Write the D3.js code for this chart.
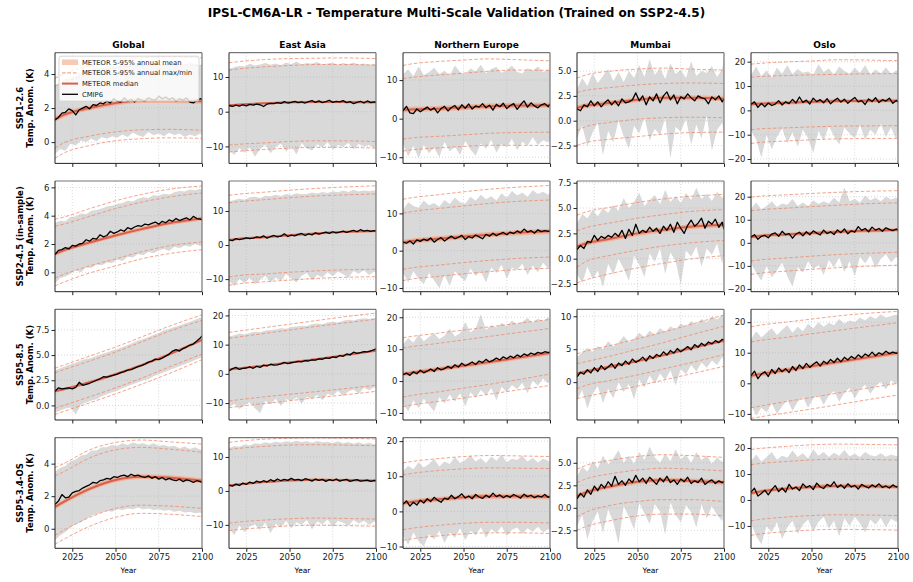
<!DOCTYPE html>
<html>
<head>
<meta charset="utf-8">
<script src="https://cdn.jsdelivr.net/npm/d3@7"></script>
<style>
  body { margin: 0; background: #fff; }
  svg { font-family: "DejaVu Sans", sans-serif; }
</style>
</head>
<body>
<div id="chart"></div>
<script>
var scenarios = ["SSP1-2.6", "SSP2-4.5 (in-sample)", "SSP5-8.5", "SSP5-3.4-OS"];
var regions = ["Global", "East Asia", "Northern Europe", "Mumbai", "Oslo"];
var xTickYears = [2025, 2050, 2075, 2100];

// METEOR curves are read at these years, CMIP6 series every 2 / 3 years
var knotYears = [2015, 2020, 2035, 2050, 2065, 2080, 2100];
var cmipYears = d3.range(2015, 2100, 2).concat([2100]);
var rangeYears = d3.range(2015, 2100, 3).concat([2100]);

// panel order: row by row (scenario), then region
var meteorMedian = [
  [1.35, 1.6, 2.0, 2.3, 2.45, 2.45, 2.4],
  [1.8, 2.0, 2.4, 2.7, 2.8, 2.8, 2.7],
  [2.3, 2.4, 2.6, 2.9, 3.2, 3.4, 3.5],
  [1.3, 1.5, 1.8, 2.1, 2.3, 2.3, 2.2],
  [2.5, 2.7, 3.1, 3.5, 3.8, 3.9, 4.0],
  [1.3, 1.55, 2.1, 2.6, 3.05, 3.45, 3.8],
  [1.5, 1.8, 2.3, 2.9, 3.4, 3.8, 4.1],
  [2.2, 2.6, 3.2, 3.8, 4.3, 4.8, 5.2],
  [1.2, 1.5, 2.0, 2.5, 2.85, 3.15, 3.35],
  [2.5, 3.0, 3.6, 4.2, 4.7, 5.2, 5.6],
  [1.4, 1.6, 2.3, 3.1, 4.0, 5.0, 6.5],
  [1.5, 1.8, 2.8, 3.9, 5.0, 6.2, 7.9],
  [2.2, 2.6, 3.7, 4.8, 6.0, 7.2, 8.8],
  [1.3, 1.6, 2.4, 3.2, 4.1, 5.1, 6.3],
  [2.5, 3.0, 4.3, 5.6, 7.0, 8.3, 10.0],
  [1.35, 1.65, 2.45, 3.0, 3.2, 3.15, 2.95],
  [1.6, 1.9, 2.6, 3.1, 3.3, 3.2, 3.0],
  [2.3, 2.7, 3.4, 4.0, 4.3, 4.3, 4.1],
  [1.3, 1.7, 2.4, 2.9, 3.1, 3.0, 2.8],
  [2.6, 3.2, 4.3, 5.0, 5.4, 5.3, 5.0]
];
// half width of the 5-95% annual mean band
var meteorSpread = [0.15, 0.35, 0.7, 0.25, 0.8, 0.15, 0.35, 0.7, 0.25, 0.8,
                    0.15, 0.35, 0.7, 0.25, 0.8, 0.15, 0.35, 0.7, 0.25, 0.8];
var meteorMaxHigh = [
  [3.75, 4.0, 4.5, 4.85, 4.95, 5.0, 4.95],
  [14.1, 14.4, 15.0, 15.3, 15.4, 15.5, 15.3],
  [13.8, 14.2, 14.8, 15.2, 15.5, 15.3, 15.0],
  [4.3, 4.6, 5.0, 5.2, 5.3, 5.2, 5.1],
  [19.0, 19.3, 19.9, 20.3, 20.8, 20.7, 20.4],
  [3.75, 3.9, 4.5, 5.05, 5.5, 5.85, 6.1],
  [14.6, 14.9, 15.5, 16.1, 16.6, 17.0, 17.4],
  [13.8, 14.2, 15.0, 15.8, 16.5, 17.0, 17.5],
  [4.3, 4.6, 5.1, 5.55, 5.9, 6.15, 6.35],
  [19.8, 20.2, 20.8, 21.4, 21.9, 22.3, 22.6],
  [3.7, 4.0, 4.9, 5.8, 6.8, 7.8, 9.0],
  [14.2, 14.6, 15.8, 17.0, 18.2, 19.4, 20.8],
  [13.6, 14.0, 15.0, 16.0, 17.0, 18.0, 19.3],
  [4.3, 4.7, 5.6, 6.6, 7.6, 8.7, 10.2],
  [18.5, 19.0, 20.0, 21.0, 22.0, 22.8, 23.5],
  [3.75, 4.0, 4.85, 5.3, 5.45, 5.35, 5.2],
  [14.3, 14.6, 15.2, 15.5, 15.6, 15.5, 15.3],
  [13.8, 14.2, 15.0, 15.6, 15.9, 15.8, 15.6],
  [4.3, 4.7, 5.3, 5.7, 5.9, 5.8, 5.6],
  [19.4, 19.8, 20.6, 21.2, 21.5, 21.4, 21.2]
];
var meteorMaxLow = [
  [3.3, 3.5, 4.0, 4.35, 4.5, 4.55, 4.5],
  [12.0, 12.3, 12.9, 13.3, 13.6, 13.6, 13.4],
  [10.4, 10.7, 11.3, 11.8, 12.3, 12.6, 12.5],
  [2.85, 3.05, 3.35, 3.6, 3.75, 3.8, 3.75],
  [13.6, 13.9, 14.3, 14.6, 14.8, 15.0, 15.1],
  [3.25, 3.4, 3.95, 4.5, 4.95, 5.3, 5.6],
  [12.4, 12.7, 13.3, 13.9, 14.4, 14.7, 15.0],
  [10.1, 10.5, 11.3, 12.0, 12.7, 13.2, 13.6],
  [2.75, 3.05, 3.55, 4.0, 4.35, 4.65, 4.85],
  [13.9, 14.3, 15.0, 15.7, 16.3, 16.9, 17.3],
  [3.25, 3.55, 4.4, 5.3, 6.3, 7.3, 8.45],
  [12.2, 12.6, 13.8, 15.0, 16.2, 17.3, 18.7],
  [10.4, 10.8, 11.8, 12.9, 14.0, 15.1, 16.5],
  [2.8, 3.1, 4.0, 5.0, 6.0, 7.1, 8.5],
  [13.5, 14.0, 15.0, 16.2, 17.3, 18.4, 19.8],
  [3.25, 3.5, 4.35, 4.85, 5.0, 4.9, 4.7],
  [12.2, 12.5, 13.1, 13.5, 13.6, 13.5, 13.3],
  [10.4, 10.8, 11.6, 12.1, 12.4, 12.3, 12.2],
  [2.8, 3.2, 3.8, 4.2, 4.4, 4.3, 4.1],
  [13.6, 14.0, 14.8, 15.4, 15.7, 15.6, 15.4]
];
var meteorMinHigh = [
  [-0.35, -0.05, 0.35, 0.6, 0.72, 0.75, 0.7],
  [-9.6, -9.4, -9.0, -8.6, -8.4, -8.4, -8.6],
  [-5.3, -5.0, -4.6, -4.2, -3.8, -3.6, -3.5],
  [-1.0, -0.6, -0.15, 0.15, 0.3, 0.35, 0.3],
  [-8.0, -7.6, -7.2, -6.8, -6.5, -6.4, -6.3],
  [-0.4, -0.15, 0.45, 0.95, 1.45, 1.85, 2.15],
  [-9.4, -9.0, -8.5, -8.0, -7.6, -7.3, -7.1],
  [-5.0, -4.6, -3.9, -3.2, -2.6, -2.1, -1.7],
  [-0.85, -0.3, 0.35, 0.85, 1.25, 1.55, 1.8],
  [-7.9, -7.4, -6.6, -5.8, -5.1, -4.6, -4.1],
  [-0.3, 0.0, 0.85, 1.75, 2.7, 3.75, 5.1],
  [-9.3, -8.9, -7.9, -7.0, -6.1, -5.2, -3.9],
  [-5.0, -4.5, -3.4, -2.2, -1.0, 0.3, 2.2],
  [-1.0, -0.5, 0.3, 1.1, 2.0, 2.9, 4.2],
  [-8.0, -7.5, -6.0, -4.6, -3.2, -1.8, 0.0],
  [-0.4, -0.1, 0.7, 1.25, 1.45, 1.4, 1.25],
  [-9.5, -9.2, -8.6, -8.2, -8.0, -8.1, -8.3],
  [-5.2, -4.8, -4.0, -3.4, -3.1, -3.1, -3.3],
  [-1.0, -0.5, 0.3, 0.7, 0.9, 0.9, 0.7],
  [-8.0, -7.5, -6.6, -6.0, -5.7, -5.8, -6.0]
];
var meteorMinLow = [
  [-0.95, -0.65, -0.2, 0.08, 0.2, 0.25, 0.22],
  [-11.6, -11.4, -10.9, -10.5, -10.3, -10.3, -10.5],
  [-8.4, -8.1, -7.6, -7.2, -6.9, -6.9, -7.0],
  [-2.5, -2.2, -1.85, -1.6, -1.35, -1.2, -1.15],
  [-13.6, -13.2, -12.6, -12.1, -11.7, -11.6, -11.5],
  [-0.95, -0.7, -0.05, 0.45, 0.95, 1.3, 1.6],
  [-11.8, -11.4, -10.8, -10.3, -9.8, -9.5, -9.3],
  [-8.0, -7.6, -6.9, -6.2, -5.6, -5.1, -4.7],
  [-2.4, -2.1, -1.45, -0.9, -0.45, -0.05, 0.3],
  [-13.7, -13.2, -12.3, -11.5, -10.8, -10.2, -9.7],
  [-0.9, -0.6, 0.25, 1.15, 2.1, 3.1, 4.55],
  [-11.6, -11.2, -10.2, -9.2, -8.2, -7.3, -6.0],
  [-8.0, -7.5, -6.4, -5.3, -4.1, -2.9, -1.4],
  [-2.5, -2.2, -1.4, -0.6, 0.3, 1.2, 2.4],
  [-11.5, -11.0, -9.7, -8.4, -7.0, -5.6, -3.8],
  [-0.95, -0.65, 0.15, 0.7, 0.95, 0.9, 0.75],
  [-11.7, -11.4, -10.8, -10.3, -10.1, -10.2, -10.4],
  [-8.2, -7.8, -7.0, -6.4, -6.1, -6.1, -6.3],
  [-2.5, -2.1, -1.4, -0.9, -0.7, -0.7, -0.9],
  [-13.6, -13.1, -12.2, -11.6, -11.3, -11.4, -11.6]
];

// CMIP6 annual mean (every 2 years + 2100)
var cmipMean = [
  [1.3,1.45,1.7,1.75,1.95,1.85,1.6,1.9,2.0,2.1,1.95,2.2,2.15,2.3,2.25,2.4,2.3,2.55,2.4,2.35,2.6,2.4,2.5,2.35,2.55,2.45,2.4,2.6,2.5,2.45,2.7,2.55,2.65,2.5,2.6,2.4,2.55,2.45,2.6,2.35,2.3,2.45,2.55,2.5],
  [1.8,1.5,1.9,1.6,2.0,1.7,2.1,1.9,2.2,2.0,1.5,2.2,2.4,2.3,2.6,2.4,2.9,2.5,2.7,3.0,2.6,2.8,2.5,2.9,3.2,2.7,3.1,2.6,2.9,3.3,2.7,3.0,2.8,3.2,2.6,2.9,2.3,2.7,3.0,2.5,3.1,2.6,2.8,2.7],
  [2.0,3.2,1.5,1.3,2.5,1.8,2.4,3.0,2.2,2.8,1.5,2.6,3.2,2.0,2.9,3.4,2.3,3.6,2.7,3.8,2.5,3.3,3.0,3.9,2.8,3.5,2.2,3.7,3.1,4.0,2.6,3.4,3.9,2.4,3.6,4.6,3.0,4.1,3.3,2.8,3.6,3.9,3.1,3.8],
  [1.2,1.0,1.6,1.4,2.0,1.5,1.9,1.4,1.8,2.1,1.6,2.0,1.5,2.2,1.8,1.9,2.1,2.8,2.0,2.5,1.6,2.4,2.0,2.7,1.8,2.5,2.9,2.1,2.6,1.7,2.4,2.2,2.7,2.3,2.0,2.5,2.3,2.2,1.7,2.4,2.1,2.5,1.9,2.2],
  [2.5,3.5,1.2,2.8,1.5,3.0,2.0,2.6,4.0,2.2,3.5,2.8,4.5,3.0,5.5,3.3,4.2,2.6,5.0,3.6,4.4,3.1,4.8,2.7,4.0,5.0,3.4,4.6,2.9,4.2,5.3,3.5,4.0,2.4,4.7,3.6,5.2,3.2,4.4,3.8,5.0,2.9,4.1,3.5],
  [1.25,1.55,1.6,1.75,1.65,1.9,1.85,2.0,2.05,2.3,2.2,2.4,2.35,2.65,2.5,2.6,2.9,2.75,2.85,3.0,2.9,3.15,3.05,3.2,3.3,3.25,3.4,3.35,3.45,3.55,3.4,3.6,3.5,3.7,3.6,3.8,3.65,3.75,3.85,3.7,3.95,3.8,3.75,3.7],
  [1.5,1.3,1.9,1.6,1.8,2.1,1.9,2.0,2.4,2.2,2.7,2.0,2.5,2.8,2.4,2.6,3.3,2.5,2.9,2.7,3.1,3.4,2.8,3.3,3.0,3.6,3.2,3.5,3.8,3.4,3.9,3.6,3.8,4.1,3.7,4.0,4.3,3.9,4.5,4.1,4.3,4.0,4.2,4.1],
  [2.3,2.0,2.6,1.8,2.9,2.5,3.1,2.7,3.4,2.3,3.0,3.5,2.6,3.3,3.9,3.2,3.6,4.1,3.0,3.8,3.4,4.2,3.7,3.2,4.4,3.9,4.7,4.0,4.5,4.9,4.3,5.0,4.6,5.3,4.8,5.8,5.0,5.4,4.7,5.6,5.1,5.4,5.2,5.3],
  [0.9,1.3,1.0,1.7,1.6,2.3,1.8,2.2,2.0,2.3,2.1,2.5,2.2,2.8,2.0,2.9,2.3,3.4,2.5,2.8,2.6,3.1,2.7,3.0,2.5,3.2,2.8,3.4,2.6,3.6,3.0,2.5,3.3,3.8,3.2,3.5,4.0,3.0,3.7,3.4,3.9,3.1,3.6,2.9],
  [2.5,3.5,1.5,2.8,3.2,2.2,3.8,4.3,2.8,5.0,3.5,4.0,2.0,3.8,4.6,3.0,4.8,3.5,5.2,4.2,3.4,5.5,4.0,4.8,3.6,5.6,4.4,6.0,3.9,5.2,4.6,7.0,5.4,6.2,4.8,6.8,5.5,6.2,5.0,6.5,5.8,5.3,6.0,5.5],
  [1.4,1.75,1.65,1.7,1.75,1.65,1.8,2.3,2.0,2.1,2.2,2.35,2.5,2.65,2.85,2.8,2.9,3.0,3.1,3.25,3.35,3.5,3.55,3.7,3.85,3.95,4.1,4.3,4.4,4.6,4.55,4.7,4.9,5.1,5.4,5.55,5.4,5.65,5.8,6.0,6.1,6.4,6.7,6.9],
  [1.0,1.8,2.2,1.5,1.9,2.0,2.4,1.9,2.6,2.2,3.0,2.7,3.3,3.0,3.1,3.4,3.9,3.5,3.8,4.0,4.3,4.1,4.5,4.4,4.8,4.7,5.1,5.0,5.5,5.3,5.8,5.6,6.3,6.0,6.8,6.5,7.4,7.0,7.3,7.6,7.5,7.9,8.3,8.6],
  [2.0,2.5,1.8,2.9,2.3,3.4,2.6,3.1,3.8,3.0,4.2,3.5,3.9,4.6,4.0,5.1,4.4,5.6,4.8,5.3,6.0,5.2,6.3,5.8,6.8,6.0,6.5,7.2,6.6,7.6,7.0,7.8,7.3,8.2,7.6,8.5,8.0,8.8,8.3,9.0,8.7,9.2,8.9,9.1],
  [0.8,1.5,1.2,1.9,1.4,2.2,1.6,2.5,1.9,2.3,2.8,2.1,2.9,2.5,3.2,2.7,3.5,3.0,3.3,3.8,3.2,4.0,3.6,4.2,3.9,4.6,4.1,4.8,4.4,5.1,4.6,5.0,5.4,4.9,5.7,5.3,5.9,5.5,6.1,5.8,6.3,6.0,6.5,6.4],
  [2.5,4.0,1.5,3.0,3.8,2.2,4.5,3.2,5.0,3.8,4.8,3.5,5.5,4.2,6.0,4.8,6.5,5.2,6.2,7.0,5.6,7.2,6.4,7.8,6.8,8.2,7.0,8.5,7.6,8.8,8.0,9.3,8.4,9.6,8.9,10.2,9.0,10.0,9.4,10.5,9.7,10.2,9.8,10.0],
  [1.5,1.7,2.1,1.9,1.95,2.2,2.3,2.35,2.5,2.6,2.7,2.85,2.8,2.95,3.0,3.1,3.05,3.2,3.15,3.25,3.3,3.2,3.35,3.25,3.3,3.2,3.15,3.25,3.1,3.2,3.05,3.15,3.0,3.1,3.0,2.95,3.05,2.9,3.0,2.95,2.85,2.95,2.9,2.85],
  [1.7,1.4,2.0,1.6,2.3,1.9,2.6,2.2,2.9,2.5,3.0,2.6,3.3,2.8,3.5,3.0,3.4,3.1,3.7,3.2,3.4,3.0,3.6,3.3,2.9,3.5,3.1,3.4,2.8,3.3,3.0,3.5,2.9,3.2,3.4,2.8,3.1,3.3,2.9,3.0,3.2,2.8,3.1,3.0],
  [2.0,3.0,1.5,2.6,1.8,3.2,2.4,3.6,2.8,4.0,3.2,2.6,3.8,3.4,4.6,3.6,4.2,5.0,3.8,4.4,3.6,4.8,4.1,3.7,4.6,4.0,5.2,4.2,4.7,3.9,4.5,4.0,4.8,4.3,3.8,4.9,4.2,4.6,3.9,4.4,4.1,4.8,4.0,4.3],
  [1.0,1.6,1.2,2.0,1.5,2.4,1.9,2.6,2.2,2.9,2.4,3.5,2.6,3.0,2.5,3.2,2.8,3.6,2.9,3.3,2.7,3.4,3.0,2.6,3.3,2.9,3.5,2.8,3.1,2.6,3.2,2.9,3.4,2.7,3.0,2.8,3.3,2.6,2.9,3.1,2.7,3.0,2.8,2.9],
  [3.0,4.5,1.5,2.5,3.8,2.0,4.0,5.5,3.2,4.6,3.0,6.0,4.2,5.0,3.6,6.2,4.8,5.5,4.0,6.5,5.0,4.4,6.0,5.2,7.0,4.8,5.8,4.5,6.2,5.0,5.6,4.2,6.0,5.2,4.6,5.8,5.0,6.2,4.8,5.4,4.6,5.8,5.0,5.2]
];
// CMIP6 annual max / min envelope (every 3 years + 2100)
var cmipMax = [
  [3.3,3.5,3.7,3.8,3.9,4.1,4.2,4.25,4.4,4.3,4.45,4.5,4.4,4.6,4.5,4.55,4.7,4.5,4.6,4.55,4.65,4.5,4.7,4.55,4.6,4.5,4.7,4.6,4.5,4.6],
  [12.3,12.8,13.2,13.0,13.8,13.3,13.6,14.0,13.5,13.9,13.4,14.2,13.7,14.5,13.6,14.0,13.8,14.3,13.6,13.9,14.1,13.5,14.0,13.7,14.2,13.6,13.9,13.5,13.8,13.4],
  [11.5,12.8,11.0,13.5,11.3,12.0,13.2,11.6,12.4,11.2,13.8,12.0,11.5,13.0,12.2,14.0,11.8,12.9,13.4,11.9,12.6,13.8,12.1,11.7,13.1,12.4,13.5,12.0,12.8,12.3],
  [3.2,4.3,3.5,4.8,3.8,4.5,5.2,4.0,4.9,3.9,5.0,4.3,5.6,4.4,6.2,4.6,5.3,4.2,5.8,4.7,5.1,4.3,6.0,4.5,5.0,4.8,5.5,4.4,5.2,6.3],
  [14.5,18.0,14.0,16.5,13.5,17.5,15.0,18.5,14.8,17.0,15.5,16.0,14.5,19.0,15.8,17.2,14.6,18.0,16.2,15.0,17.5,15.5,18.5,14.8,16.8,15.2,17.6,15.0,16.5,15.8],
  [3.5,3.65,3.6,3.9,3.95,4.15,4.1,4.35,4.4,4.5,4.65,4.7,4.85,4.9,5.05,5.0,5.2,5.3,5.25,5.45,5.4,5.55,5.5,5.65,5.75,5.7,5.85,5.8,5.9,5.85],
  [12.8,13.2,13.6,13.3,14.0,14.2,13.8,14.5,14.3,14.8,14.4,15.0,14.7,15.2,14.9,15.0,15.4,15.1,15.6,15.3,15.8,15.5,16.0,15.6,16.2,15.7,16.0,15.8,16.1,15.9],
  [11.0,13.0,12.0,11.5,13.5,12.2,12.8,11.8,13.6,12.5,14.2,13.0,12.6,14.5,13.4,15.0,13.8,14.6,13.5,15.4,14.2,16.0,14.8,15.6,14.5,16.2,15.2,15.8,15.0,15.5],
  [3.5,4.4,4.0,4.8,4.2,5.0,4.5,5.3,4.7,6.0,5.0,5.6,6.5,5.2,5.8,6.3,5.4,6.8,5.6,6.2,5.5,6.5,5.8,7.0,5.9,6.4,5.7,6.6,6.0,6.3],
  [15.0,17.5,14.5,16.0,18.0,15.5,17.0,16.5,19.0,16.0,17.5,15.8,18.5,16.8,18.0,17.0,19.5,17.5,24.0,18.0,19.0,17.5,20.5,18.5,19.5,18.0,20.0,18.8,19.5,19.0],
  [3.5,3.7,3.9,4.1,4.25,4.45,4.6,4.7,4.9,5.1,5.25,5.45,5.6,5.8,6.0,6.2,6.45,6.6,6.8,7.0,7.2,7.45,7.6,7.8,7.95,8.15,8.3,8.5,8.7,8.7],
  [12.8,13.2,13.8,13.5,14.0,14.4,14.2,14.8,15.0,15.2,15.6,15.4,16.0,16.2,16.5,16.4,17.0,17.2,17.0,17.6,17.8,17.6,18.2,18.5,18.3,18.8,19.0,18.8,19.2,19.0],
  [11.5,13.5,12.0,14.5,12.5,13.8,15.0,13.2,14.2,16.5,14.0,15.0,18.5,15.2,16.5,21.0,16.0,17.5,16.8,18.2,17.2,19.0,17.8,18.6,19.8,18.4,19.5,18.8,20.0,19.2],
  [3.8,4.5,5.2,4.6,5.5,5.0,6.2,5.4,6.0,7.0,6.1,6.6,7.5,6.8,7.8,7.2,8.2,7.6,8.5,8.0,8.9,8.4,9.3,8.8,9.6,9.1,10.0,9.5,10.2,9.8],
  [14.5,17.0,15.0,16.5,18.0,15.8,17.5,19.0,16.5,18.5,17.0,19.5,18.0,20.0,18.5,19.8,19.0,21.0,19.5,20.5,20.0,21.5,20.5,22.0,21.0,22.5,21.5,22.0,22.5,22.0],
  [3.5,3.75,3.85,4.15,4.25,4.5,4.55,4.8,4.8,5.0,5.0,5.15,5.1,5.25,5.15,5.3,5.2,5.25,5.15,5.25,5.1,5.15,5.05,5.1,4.95,5.05,4.9,5.0,4.85,4.9],
  [12.6,13.2,13.0,13.7,13.4,14.0,13.8,14.3,14.0,14.5,14.2,14.6,14.3,14.8,14.4,14.6,14.2,14.7,14.3,14.5,14.1,14.6,14.0,14.4,13.9,14.3,13.8,14.2,13.7,14.0],
  [11.5,13.0,12.0,14.0,12.5,13.5,15.0,12.8,14.2,13.5,15.5,13.8,14.6,16.0,14.2,15.2,13.8,15.6,14.4,16.2,14.0,15.0,14.6,15.8,14.2,15.2,13.9,15.0,14.4,14.0],
  [3.5,4.6,4.0,5.2,4.4,5.8,4.8,5.5,6.4,5.0,5.8,4.9,6.2,5.3,6.8,5.6,5.0,6.0,5.2,6.5,5.4,5.9,5.0,6.2,5.3,5.8,4.9,5.6,5.1,5.4],
  [15.0,17.5,14.8,16.5,18.5,15.5,17.0,16.2,19.0,16.5,18.0,16.0,19.5,17.0,18.5,16.5,18.2,17.0,19.2,16.8,17.8,16.5,18.5,17.2,16.8,18.0,16.6,17.5,16.8,17.2]
];
var cmipMin = [
  [-0.7,-0.4,-0.5,-0.1,-0.2,0.1,0.0,0.2,0.05,0.3,0.2,0.35,0.25,0.45,0.3,0.55,0.4,0.3,0.6,0.4,0.5,0.35,0.55,0.4,0.5,0.3,0.45,0.35,0.5,0.4],
  [-11.0,-12.5,-10.5,-11.8,-10.3,-13.0,-10.8,-9.5,-12.0,-10.2,-9.2,-11.5,-10.0,-12.3,-9.0,-10.6,-11.2,-9.4,-10.3,-8.8,-11.0,-9.6,-10.1,-9.0,-10.8,-9.3,-10.0,-9.6,-10.5,-9.8],
  [-6.5,-9.8,-7.0,-10.2,-6.8,-9.0,-7.5,-10.0,-6.0,-8.5,-7.2,-9.4,-5.8,-8.0,-9.6,-6.4,-7.8,-5.5,-8.8,-6.6,-7.4,-5.2,-8.2,-6.0,-7.0,-4.8,-6.8,-5.6,-6.2,-5.4],
  [-1.8,-0.5,-2.6,-1.2,-0.2,-3.5,-1.0,-2.2,0.0,-1.6,-2.8,-0.5,-1.3,0.4,-2.0,-0.8,-1.5,0.3,-3.8,-0.6,-1.1,0.2,-2.4,-0.4,-1.8,0.5,-3.0,-0.9,-0.2,-1.4],
  [-8.5,-12.0,-19.5,-10.0,-16.0,-11.0,-7.5,-13.5,-9.0,-15.0,-8.0,-11.5,-17.5,-8.5,-12.5,-6.5,-10.5,-14.0,-7.0,-9.5,-11.5,-6.0,-12.0,-8.0,-10.0,-5.5,-11.0,-7.0,-12.0,-8.0],
  [-0.8,-0.4,-0.3,-0.1,0.15,0.0,0.35,0.3,0.55,0.5,0.7,0.65,0.9,0.8,1.1,1.05,1.3,1.2,1.45,1.35,1.55,1.65,1.5,1.8,1.7,1.9,1.8,2.0,1.85,1.9],
  [-10.5,-12.0,-10.0,-11.2,-9.6,-11.5,-10.2,-9.0,-11.0,-9.5,-10.5,-8.5,-9.8,-11.0,-9.0,-8.2,-10.4,-8.8,-9.5,-8.0,-9.2,-7.8,-8.6,-9.6,-7.6,-8.4,-7.4,-8.8,-7.8,-8.2],
  [-6.0,-8.5,-5.5,-7.5,-9.0,-6.0,-8.0,-10.0,-6.5,-9.5,-5.5,-7.0,-8.2,-4.8,-6.8,-5.5,-8.5,-4.5,-6.0,-3.8,-7.5,-4.5,-5.2,-3.5,-6.5,-4.0,-5.8,-3.2,-4.8,-4.0],
  [-1.5,-2.4,-0.8,-2.0,-1.2,-2.8,-0.5,-1.6,0.0,-1.0,-2.2,0.3,-0.6,-1.8,0.5,-0.3,1.0,-1.5,0.6,-0.2,-2.6,0.8,0.2,1.2,-0.8,1.0,0.4,1.5,-0.5,0.7],
  [-9.0,-13.0,-16.5,-10.0,-15.0,-12.0,-8.5,-14.5,-19.0,-10.5,-13.0,-8.0,-11.5,-9.5,-14.0,-7.5,-10.5,-6.5,-12.5,-8.0,-14.5,-6.0,-9.0,-5.5,-11.0,-7.0,-5.0,-8.5,-6.0,-7.0],
  [-0.7,-0.5,-0.3,-0.2,-0.9,0.1,0.3,0.5,0.6,0.9,1.1,1.3,1.45,1.7,1.9,2.1,2.3,2.5,2.6,2.9,3.1,3.3,3.5,3.7,3.9,4.1,4.3,4.5,4.7,4.8],
  [-11.5,-10.2,-12.0,-10.8,-9.6,-11.8,-13.5,-9.2,-10.5,-8.5,-11.0,-8.6,-9.4,-8.0,-10.2,-7.8,-8.6,-7.2,-9.0,-6.8,-7.5,-5.8,-7.6,-6.0,-5.4,-6.8,-4.8,-5.6,-4.5,-5.0],
  [-7.0,-9.5,-6.0,-8.5,-5.5,-7.5,-9.5,-5.0,-7.0,-4.2,-6.5,-3.8,-8.0,-3.5,-5.2,-2.8,-4.5,-2.2,-6.0,-1.8,-3.5,-1.2,-2.6,-0.5,-3.8,0.2,-1.5,0.8,-0.8,0.5],
  [-2.8,-1.2,-4.0,-1.8,-0.6,-3.2,-1.0,-2.5,0.0,-1.5,-0.3,-2.6,0.4,-0.8,1.0,-0.2,1.3,0.3,1.8,-0.5,2.0,1.2,2.6,1.6,3.0,2.2,3.3,2.6,3.8,3.2],
  [-7.0,-10.5,-8.0,-9.5,-6.5,-10.0,-7.5,-5.5,-9.0,-6.0,-4.5,-8.0,-5.0,-3.8,-7.0,-4.0,-2.5,-6.0,-3.0,-1.5,-5.0,-2.0,-0.5,-3.5,-1.0,0.5,-2.0,1.0,-0.5,1.5],
  [-0.7,-0.4,-0.2,0.1,0.3,0.4,0.6,0.8,0.9,1.0,1.1,1.05,1.2,1.15,1.25,1.2,1.3,1.2,1.25,1.15,1.2,1.1,1.15,1.05,1.1,1.0,1.05,0.95,1.0,0.9],
  [-11.0,-13.0,-10.2,-12.2,-10.5,-9.8,-11.5,-9.2,-12.5,-9.6,-10.8,-8.8,-11.0,-9.2,-10.0,-8.6,-11.4,-9.0,-9.8,-8.4,-10.6,-8.8,-9.4,-10.2,-8.6,-9.6,-8.8,-10.0,-9.0,-9.4],
  [-7.0,-9.5,-6.0,-8.5,-10.0,-6.5,-8.0,-5.5,-9.0,-6.0,-7.5,-4.8,-8.2,-5.5,-6.8,-4.5,-7.6,-5.0,-6.2,-4.2,-7.0,-5.2,-4.6,-6.4,-4.8,-5.8,-4.4,-6.0,-5.0,-5.4],
  [-2.0,-0.8,-3.5,-1.5,-0.4,-2.8,-0.2,-1.6,-4.0,0.2,-1.0,-2.4,0.5,-0.6,-1.8,0.4,-0.4,-3.0,0.6,-0.8,-1.6,0.3,-0.5,-2.2,0.4,-1.2,0.2,-0.8,-1.5,-0.2],
  [-9.0,-14.0,-17.0,-10.0,-12.5,-8.5,-15.0,-10.5,-8.0,-13.0,-9.5,-7.5,-12.0,-8.5,-6.5,-11.0,-8.0,-14.0,-7.0,-10.0,-6.5,-9.0,-12.5,-7.5,-9.5,-6.8,-10.5,-7.2,-8.5,-7.8]
];

// axis limits and tick values per panel
var yLimits = [
  [-1.25, 5.25], [-14.9, 17], [-11.6, 17.1], [-4.3, 6.85], [-21.8, 23.7],
  [-1.37, 6.45], [-13.7, 18.8], [-11, 18.7], [-3.26, 7.67], [-21.2, 26.8],
  [-1.45, 9.55], [-15.8, 22.1], [-12.2, 22.5], [-5.75, 11.06], [-12, 24.2],
  [-1.2, 5.6], [-16.9, 15.7], [-10.5, 21], [-4.5, 7.8], [-18.6, 24]
];
var yTickValues = [
  [0, 2, 4], [-10, 0, 10], [-10, 0, 10], [-2.5, 0, 2.5, 5], [-20, -10, 0, 10, 20],
  [0, 2, 4, 6], [-10, 0, 10], [-10, 0, 10], [-2.5, 0, 2.5, 5, 7.5], [-20, -10, 0, 10, 20],
  [0, 2.5, 5, 7.5], [-10, 0, 10, 20], [-10, 0, 10, 20], [0, 5, 10], [-10, 0, 10, 20],
  [0, 2, 4], [-10, 0, 10], [-10, 0, 10, 20], [-2.5, 0, 2.5, 5], [-10, 0, 10, 20]
];

var width = 913, height = 582;
var colX = [55, 229, 403, 577, 751];
var rowY = [52.7, 181, 309.3, 437.6];
var panelW = 147, panelH = 110.7;

var colors = {
  range: "#d9d9d9",
  dashed: "#ee8866",
  band: "#f4a582",
  median: "#d6604d",
  cmip: "#000"
};

var svg = d3.select("#chart").append("svg")
  .attr("width", width)
  .attr("height", height);

svg.append("text")
  .attr("x", width / 2)
  .attr("y", 17)
  .attr("text-anchor", "middle")
  .style("font-size", "12px")
  .style("font-weight", "bold")
  .text("IPSL-CM6A-LR - Temperature Multi-Scale Validation (Trained on SSP2-4.5)");

for (var p = 0; p < 20; p++) drawPanel(p);

function drawPanel(p) {
  var r = Math.floor(p / 5), c = p % 5;
  var g = svg.append("g").attr("transform", "translate(" + colX[c] + "," + rowY[r] + ")");

  var x = d3.scaleLinear().domain([2015, 2100]).range([0, panelW]);
  var y = d3.scaleLinear().domain(yLimits[p]).range([panelH, 0]);

  g.append("clipPath").attr("id", "clip" + p)
    .append("rect").attr("width", panelW).attr("height", panelH);
  var plot = g.append("g").attr("clip-path", "url(#clip" + p + ")");

  // CMIP6 max/min envelope
  var rangeData = rangeYears.map(function (yr, i) {
    return { year: yr, hi: cmipMax[p][i], lo: cmipMin[p][i] };
  });
  plot.append("path")
    .datum(rangeData)
    .attr("fill", colors.range)
    .attr("d", d3.area().x(d => x(d.year)).y0(d => y(d.lo)).y1(d => y(d.hi)));

  // grid
  var grid = plot.append("g");
  grid.selectAll(".gx").data(xTickYears).enter().append("line")
    .attr("x1", d => x(d)).attr("x2", d => x(d))
    .attr("y1", 0).attr("y2", panelH);
  grid.selectAll(".gy").data(yTickValues[p]).enter().append("line")
    .attr("x1", 0).attr("x2", panelW)
    .attr("y1", d => y(d)).attr("y2", d => y(d));
  grid.selectAll("line")
    .attr("stroke", "#b0b0b0")
    .attr("stroke-width", 0.7)
    .attr("stroke-dasharray", "1,2")
    .attr("opacity", 0.7);

  var knots = function (arr) {
    return knotYears.map(function (yr, i) { return { year: yr, v: arr[i] }; });
  };
  var smooth = d3.line().x(d => x(d.year)).y(d => y(d.v)).curve(d3.curveMonotoneX);

  // METEOR max/min percentiles
  [meteorMaxHigh, meteorMaxLow, meteorMinHigh, meteorMinLow].forEach(function (series) {
    plot.append("path")
      .datum(knots(series[p]))
      .attr("fill", "none")
      .attr("stroke", colors.dashed)
      .attr("stroke-width", 0.9)
      .attr("stroke-dasharray", "3.5,2")
      .attr("opacity", 0.85)
      .attr("d", smooth);
  });

  // METEOR annual mean band + median
  var med = knots(meteorMedian[p]);
  var s = meteorSpread[p];
  plot.append("path")
    .datum(med)
    .attr("fill", colors.band)
    .attr("opacity", 0.75)
    .attr("d", d3.area().x(d => x(d.year)).y0(d => y(d.v - s)).y1(d => y(d.v + s)).curve(d3.curveMonotoneX));
  plot.append("path")
    .datum(med)
    .attr("fill", "none")
    .attr("stroke", colors.median)
    .attr("stroke-width", 2)
    .attr("d", smooth);

  // CMIP6 annual mean
  var meanData = cmipYears.map(function (yr, i) { return { year: yr, v: cmipMean[p][i] }; });
  plot.append("path")
    .datum(meanData)
    .attr("fill", "none")
    .attr("stroke", colors.cmip)
    .attr("stroke-width", 1.3)
    .attr("stroke-linejoin", "round")
    .attr("d", d3.line().x(d => x(d.year)).y(d => y(d.v)));

  // axes
  var decimals = yTickValues[p].some(v => v % 1 !== 0);
  var yAxis = d3.axisLeft(y).tickValues(yTickValues[p]).tickSize(3.5).tickPadding(2)
    .tickFormat(decimals ? d3.format(".1f") : d3.format("d"));
  var ya = g.append("g").call(yAxis);
  var xAxis = d3.axisBottom(x).tickValues(xTickYears).tickSize(3.5).tickPadding(2)
    .tickFormat(r === 3 ? d3.format("d") : "");
  var xa = g.append("g").attr("transform", "translate(0," + panelH + ")").call(xAxis);
  [ya, xa].forEach(function (a) {
    a.select(".domain").remove();
    a.selectAll("text").style("font-size", "8.5px").attr("fill", "#222")
      .style("font-family", "'DejaVu Sans', sans-serif");
    a.selectAll("line").attr("stroke", "#222");
  });

  // frame
  g.append("line").attr("x1", 0).attr("x2", panelW).attr("y1", 0).attr("y2", 0)
    .attr("stroke", "#777").attr("stroke-width", 1.2);
  g.append("line").attr("x1", panelW).attr("x2", panelW).attr("y1", 0).attr("y2", panelH)
    .attr("stroke", "#777").attr("stroke-width", 1.2);
  g.append("line").attr("x1", 0).attr("x2", 0).attr("y1", 0).attr("y2", panelH)
    .attr("stroke", "#222").attr("stroke-width", 1);
  g.append("line").attr("x1", 0).attr("x2", panelW).attr("y1", panelH).attr("y2", panelH)
    .attr("stroke", "#222").attr("stroke-width", 1);

  if (r === 0) {
    g.append("text")
      .attr("x", panelW / 2).attr("y", -5)
      .attr("text-anchor", "middle")
      .style("font-size", "9px").style("font-weight", "bold")
      .text(regions[c]);
  }
  if (r === 3) {
    g.append("text")
      .attr("x", panelW / 2).attr("y", panelH + 25)
      .attr("text-anchor", "middle")
      .style("font-size", "7.5px")
      .text("Year");
  }
  if (c === 0) {
    var lab = g.append("text")
      .attr("transform", "translate(-27," + (panelH / 2) + ") rotate(-90)")
      .attr("text-anchor", "middle")
      .style("font-size", "8.5px").style("font-weight", "bold");
    lab.append("tspan").attr("x", 0).attr("dy", "-0.6em").text(scenarios[r]);
    lab.append("tspan").attr("x", 0).attr("dy", "1.15em").text("Temp. Anom. (K)");
  }
  if (p === 0) drawLegend(g);
}

function drawLegend(g) {
  var lg = g.append("g").attr("transform", "translate(4,3.5)");
  lg.append("rect")
    .attr("width", 140).attr("height", 45)
    .attr("rx", 2)
    .attr("fill", "#fff").attr("fill-opacity", 0.8)
    .attr("stroke", "#ccc").attr("stroke-width", 0.8);
  var items = [
    { label: "METEOR 5-95% annual mean", type: "patch" },
    { label: "METEOR 5-95% annual max/min", type: "dash" },
    { label: "METEOR median", type: "median" },
    { label: "CMIP6", type: "cmip" }
  ];
  items.forEach(function (it, i) {
    var yy = 6 + i * 10.7;
    if (it.type === "patch") {
      lg.append("rect").attr("x", 3).attr("y", yy - 2.7).attr("width", 16).attr("height", 5.5)
        .attr("fill", colors.band).attr("opacity", 0.6);
    } else {
      lg.append("line").attr("x1", 3).attr("x2", 19).attr("y1", yy).attr("y2", yy)
        .attr("stroke", it.type === "dash" ? colors.dashed : it.type === "median" ? colors.median : colors.cmip)
        .attr("stroke-width", it.type === "dash" ? 0.9 : it.type === "median" ? 2 : 1.3)
        .attr("stroke-dasharray", it.type === "dash" ? "3.5,2" : null);
    }
    lg.append("text").attr("x", 23).attr("y", yy + 2.4)
      .style("font-size", "6.8px").attr("fill", "#222")
      .text(it.label);
  });
}
</script>
</body>
</html>
